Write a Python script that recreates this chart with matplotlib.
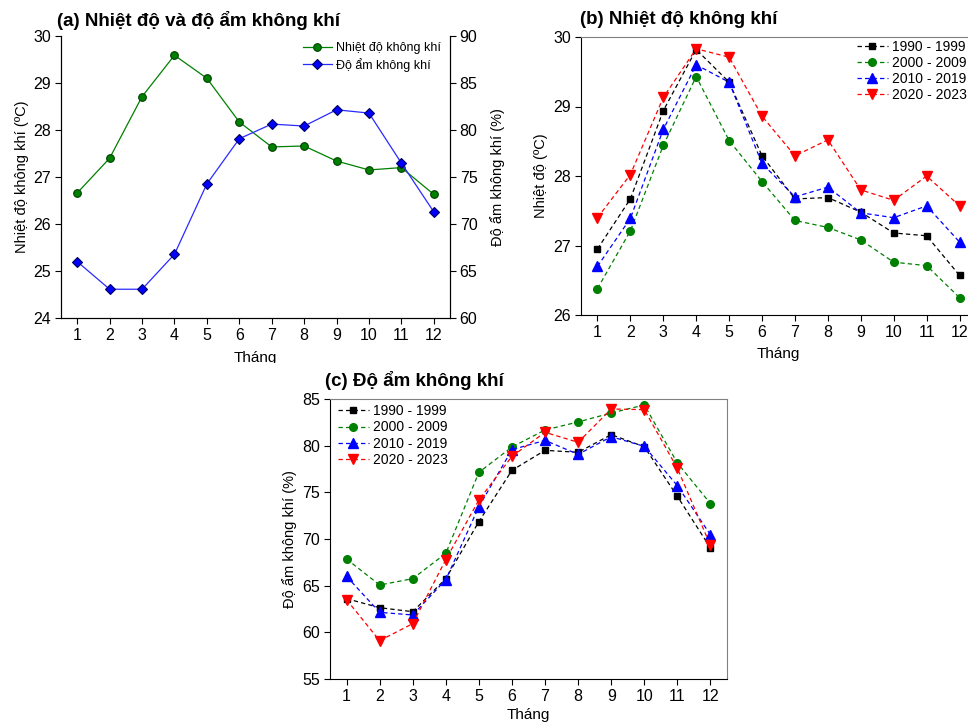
import matplotlib
matplotlib.use("Agg")
import matplotlib.pyplot as plt
from matplotlib.patches import Rectangle

plt.rcParams['font.family'] = ['Liberation Sans', 'DejaVu Sans']

months = list(range(1, 13))
month_labels = [str(m) for m in months]

# (a) mean annual cycle
temp_mean = [26.66, 27.40, 28.71, 29.59, 29.10, 28.17, 27.64, 27.66, 27.34, 27.15, 27.20, 26.63]
hum_mean = [66.0, 63.06, 63.06, 66.78, 74.27, 79.07, 80.63, 80.42, 82.15, 81.80, 76.48, 71.29]

# (b) temperature by decade
periods = ["1990 - 1999", "2000 - 2009", "2010 - 2019", "2020 - 2023"]
temp_1990 = [26.95, 27.67, 28.94, 29.82, 29.35, 28.29, 27.67, 27.69, 27.48, 27.18, 27.14, 26.57]
temp_2000 = [26.38, 27.21, 28.44, 29.43, 28.51, 27.92, 27.36, 27.26, 27.08, 26.76, 26.71, 26.25]
temp_2010 = [26.70, 27.39, 28.67, 29.60, 29.35, 28.18, 27.70, 27.84, 27.47, 27.40, 27.57, 27.05]
temp_2020 = [27.40, 28.02, 29.13, 29.83, 29.71, 28.86, 28.29, 28.52, 27.80, 27.65, 28.00, 27.57]

# (c) humidity by decade
hum_1990 = [63.61, 62.64, 62.21, 65.75, 71.86, 77.36, 79.50, 79.29, 81.18, 79.89, 74.57, 69.04]
hum_2000 = [67.86, 65.07, 65.75, 68.46, 77.14, 79.86, 81.68, 82.54, 83.50, 84.36, 78.14, 73.79]
hum_2010 = [66.00, 62.14, 61.86, 65.64, 73.46, 79.57, 80.57, 79.07, 80.96, 79.93, 75.71, 70.45]
hum_2020 = [63.50, 59.11, 60.93, 67.79, 74.18, 78.86, 81.43, 80.36, 83.93, 83.86, 77.57, 69.32]

W, H = 968, 722
fig = plt.figure(figsize=(W / 100, H / 100), dpi=100)

TICK_FS = 11.5
LABEL_FS = 11
TITLE_FS = 13.5


def box(left, top, right, bottom):
    return [left / W, 1 - bottom / H, (right - left) / W, (bottom - top) / H]


def style_axis(ax):
    ax.tick_params(direction='out', length=4, width=0.8, labelsize=TICK_FS, pad=3)
    ax.set_xticks(months)
    ax.set_xticklabels(month_labels)
    ax.set_xlim(0.5, 12.5)


series_styles = [
    dict(color='black', marker='s', ms=5),
    dict(color='#008000', marker='o', ms=5.5),
    dict(color='blue', marker='^', ms=6.5),
    dict(color='red', marker='v', ms=6.5),
]

# ---------- (a) ----------
axa = fig.add_axes(box(61, 36, 450, 318))
style_axis(axa)
axa.set_ylim(24, 30)
axa.set_yticks(range(24, 31))
axa.spines['top'].set_visible(False)
ln1, = axa.plot(months, temp_mean, color='#008000', lw=0.9, marker='o', ms=5.5,
                mfc='#008000', mec='#004000', mew=0.8, label='Nhiệt độ không khí')
axa.set_ylabel('Nhiệt độ không khí (ºC)', fontsize=10.5, labelpad=3)
axa.set_xlabel('Tháng', fontsize=LABEL_FS, labelpad=6)

axa2 = axa.twinx()
axa2.set_ylim(60, 90)
axa2.set_yticks(range(60, 91, 5))
axa2.tick_params(direction='out', length=4, width=0.8, labelsize=TICK_FS, pad=3)
axa2.spines['top'].set_visible(False)
ln2, = axa2.plot(months, hum_mean, color='#2a2aff', lw=0.9, marker='D', ms=5,
                 mfc='blue', mec='#000060', mew=0.8, label='Độ ẩm không khí')
axa2.set_ylabel('Độ ẩm không khí (%)', fontsize=10.5, labelpad=9)
axa.legend([ln1, ln2], [ln1.get_label(), ln2.get_label()], loc='upper left',
           bbox_to_anchor=(303 / W, 1 - 42 / H), bbox_transform=fig.transFigure,
           frameon=False, fontsize=9, handlelength=2.3, handletextpad=0.35,
           borderpad=0, borderaxespad=0, labelspacing=0.3, numpoints=1)

fig.text(57 / W, 1 - 20 / H, '(a) Nhiệt độ và độ ẩm không khí', fontsize=TITLE_FS,
         fontweight='bold', ha='left', va='center')

# ---------- (b) ----------
axb = fig.add_axes(box(581, 37, 976, 315))
style_axis(axb)
axb.set_ylim(26, 30)
axb.set_yticks(range(26, 31))
axb.spines['top'].set_color('#808080')
for vals, lab, st in zip([temp_1990, temp_2000, temp_2010, temp_2020], periods, series_styles):
    axb.plot(months, vals, color=st['color'], lw=0.9, ls=(0, (3.5, 2.5)),
             marker=st['marker'], ms=st['ms'], mfc=st['color'], mec=st['color'], label=lab)
axb.set_ylabel('Nhiệt độ (ºC)', fontsize=10.5, labelpad=4)
axb.set_xlabel('Tháng', fontsize=LABEL_FS, labelpad=5)
axb.legend(loc='upper left', bbox_to_anchor=(857 / W, 1 - 40 / H),
           bbox_transform=fig.transFigure, frameon=False, fontsize=10,
           handlelength=2.2, handletextpad=0.35, borderpad=0, borderaxespad=0,
           labelspacing=0.15, numpoints=1)
fig.text(580 / W, 1 - 20 / H, '(b) Nhiệt độ không khí', fontsize=TITLE_FS,
         fontweight='bold', ha='left', va='center')

# ---------- (c) ----------
axc = fig.add_axes(box(330, 399, 727, 679))
style_axis(axc)
axc.set_ylim(55, 85)
axc.set_yticks(range(55, 86, 5))
axc.spines['top'].set_color('#808080')
axc.spines['right'].set_color('#808080')
for vals, lab, st in zip([hum_1990, hum_2000, hum_2010, hum_2020], periods, series_styles):
    axc.plot(months, vals, color=st['color'], lw=0.9, ls=(0, (3.5, 2.5)),
             marker=st['marker'], ms=st['ms'], mfc=st['color'], mec=st['color'], label=lab)
axc.set_ylabel('Độ ẩm không khí (%)', fontsize=10.5, labelpad=4)
axc.set_xlabel('Tháng', fontsize=LABEL_FS, labelpad=3)
axc.legend(loc='upper left', bbox_to_anchor=(338 / W, 1 - 404 / H),
           bbox_transform=fig.transFigure, frameon=False, fontsize=10,
           handlelength=2.2, handletextpad=0.35, borderpad=0, borderaxespad=0,
           labelspacing=0.17, numpoints=1)
fig.text(325 / W, 1 - 381 / H, '(c) Độ ẩm không khí', fontsize=TITLE_FS,
         fontweight='bold', ha='left', va='center')

# white band trimming the lower edge of panel (a)
fig.patches.append(Rectangle((150 / W, 1 - 371 / H), 170 / W, 8.5 / H,
                             transform=fig.transFigure, facecolor='white',
                             edgecolor='none', zorder=10))

fig.savefig('out.png', dpi=100)
